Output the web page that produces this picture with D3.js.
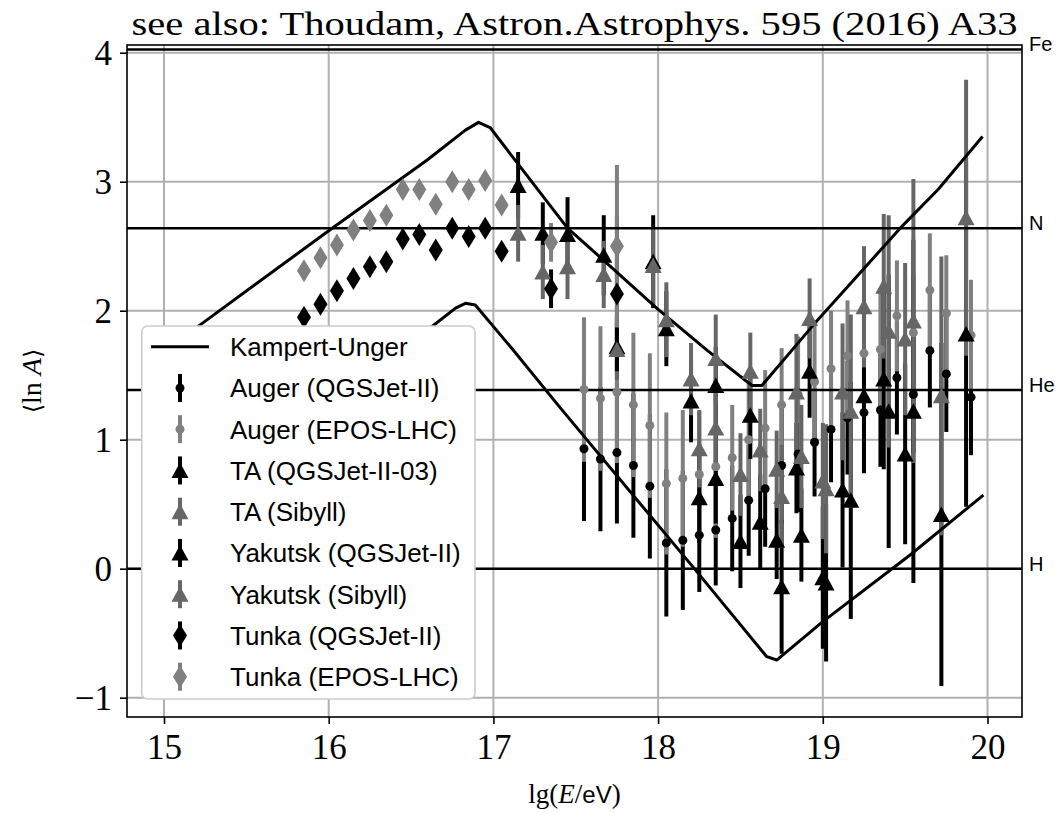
<!DOCTYPE html>
<html><head><meta charset="utf-8">
<script src="https://cdn.jsdelivr.net/npm/d3@7"></script>
<style>body{margin:0;background:#fff} svg{display:block}</style>
</head><body><svg id="c" width="1064" height="813"></svg>
<script>
// ---------------- data ----------------
const titleText = "see also: Thoudam, Astron.Astrophys. 595 (2016) A33";
const xTicks = [15, 16, 17, 18, 19, 20];
const yTicks = [-1, 0, 1, 2, 3, 4];

const massLabels = ["H", "He", "N", "Fe"];
const massLnA = [0, 1.386, 2.639, 4.025];

const kuUpperX = [15.0, 15.23, 16.0, 16.6, 16.83, 16.91, 16.98, 17.1, 17.45, 17.6, 18.0, 18.3, 18.57, 18.63, 18.95, 19.47, 19.7, 19.97];
const kuUpperY = [1.69, 1.90, 2.62, 3.17, 3.40, 3.46, 3.42, 3.22, 2.64, 2.47, 2.01, 1.69, 1.42, 1.42, 1.90, 2.64, 2.94, 3.35];
const kuLowerX = [15.0, 16.6, 16.77, 16.83, 16.89, 17.12, 17.4, 18.21, 18.66, 18.72, 19.0, 19.53, 19.975];
const kuLowerY = [0.34, 1.85, 2.02, 2.057, 2.044, 1.695, 1.256, 0.016, -0.682, -0.708, -0.41, 0.106, 0.571];

const augerX = [17.55,17.65,17.75,17.85,17.95,18.05,18.15,18.25,18.35,18.45,18.55,18.65,18.75,18.85,18.95,19.05,19.15,19.25,19.35,19.45,19.55,19.65,19.75,19.9];
const augerQgsY = [0.93,0.85,0.90,0.80,0.64,0.20,0.22,0.26,0.30,0.39,0.53,0.62,0.80,0.89,0.98,1.08,1.17,1.21,1.23,1.48,1.35,1.69,1.51,1.33];
const augerQgsErr = [0.56,0.56,0.55,0.56,0.56,0.57,0.54,0.44,0.43,0.41,0.43,0.45,0.45,0.45,0.42,0.41,0.44,0.45,0.44,0.44,0.45,0.44,0.45,0.45];
const augerEposY = [1.39,1.32,1.37,1.27,1.11,0.66,0.70,0.73,0.79,0.86,1.00,1.09,1.27,1.35,1.45,1.55,1.65,1.67,1.70,1.96,1.83,2.16,1.98,1.81];
const augerEposErr = [0.56,0.56,0.55,0.56,0.56,0.55,0.53,0.49,0.55,0.41,0.45,0.45,0.44,0.45,0.44,0.45,0.43,0.44,0.44,0.43,0.44,0.44,0.45,0.43];

const taX = [18.2, 18.35, 18.56, 18.72, 18.84, 18.92, 19.0, 19.12, 19.25, 19.37, 19.5, 19.72, 19.87];
const taQgsY = [1.30, 1.42, 1.19, 0.22, 0.78, 1.53, -0.07, 0.61, 1.34, 1.47, 0.89, 0.42, 1.82];
const taQgsErr = [0.32, 0.30, 0.34, 0.30, 0.35, 0.36, 0.55, 0.60, 0.60, 0.70, 0.70, 1.33, 1.34];
const taSibY = [1.47, 1.63, 1.53, 0.77, 1.37, 1.94, 0.68, 1.37, 2.03, 2.19, 1.78, 1.34, 2.72];
const taSibErr = [0.28, 0.34, 0.30, 0.30, 0.45, 0.31, 0.45, 0.53, 0.47, 0.56, 0.59, 1.08, 1.07];

const yakX = [17.15, 17.3, 17.45, 17.67, 17.75, 17.97, 18.05, 18.25, 18.35, 18.5, 18.62, 18.75, 18.87, 19.02, 19.17, 19.4, 19.55];
const yakQgsY = [2.97, 2.60, 2.59, 2.43, 1.72, 2.38, 1.86, 0.55, 0.70, 0.21, 0.36, -0.14, 0.26, -0.11, 0.53, 1.22, 1.22];
const yakQgsErr = [0.26, 0.24, 0.29, 0.31, 0.24, 0.36, 0.29, 0.35, 0.35, 0.36, 0.37, 0.52, 0.36, 0.61, 0.92, 1.06, 1.33];
const yakSibY = [2.60, 2.30, 2.34, 2.28, 1.70, 2.35, 1.93, 0.93, 1.09, 0.73, 0.92, 0.56, 0.87, 0.62, 1.22, 1.84, 1.92];
const yakSibErr = [0.22, 0.21, 0.25, 0.26, 0.24, 0.30, 0.29, 0.30, 0.30, 0.32, 0.32, 0.40, 0.40, 0.50, 0.75, 0.90, 1.10];

const tunkaX = [15.85,15.95,16.05,16.15,16.25,16.35,16.45,16.55,16.65,16.75,16.85,16.95,17.05,17.35,17.75];
const tunkaQgsY = [1.95,2.05,2.155,2.25,2.34,2.38,2.555,2.59,2.47,2.64,2.575,2.64,2.46,2.17,2.13];
const tunkaQgsErr = [0.03,0.03,0.03,0.03,0.03,0.03,0.03,0.03,0.03,0.03,0.03,0.03,0.03,0.15,0.60];
const tunkaEposY = [2.31,2.41,2.51,2.625,2.70,2.74,2.94,2.94,2.825,3.0,2.94,3.01,2.82,2.53,2.50];
const tunkaEposErr = [0.03,0.03,0.03,0.03,0.03,0.03,0.03,0.03,0.03,0.03,0.03,0.03,0.03,0.15,0.63];

const legendLabels = ["Kampert-Unger","Auger (QGSJet-II)","Auger (EPOS-LHC)","TA (QGSJet-II-03)","TA (Sibyll)","Yakutsk (QGSJet-II)","Yakutsk (Sibyll)","Tunka (QGSJet-II)","Tunka (EPOS-LHC)"];

// ---------------- setup ----------------
const W = 1064, H = 813;
const M = {left: 127, right: 1022, top: 45, bottom: 717};
const x = d3.scaleLinear().domain([14.7753, 20.2095]).range([M.left, M.right]);
const y = d3.scaleLinear().domain([-1.1496, 4.0597]).range([M.bottom, M.top]);
const svg = d3.select('#c');
svg.append('rect').attr('width', W).attr('height', H).attr('fill', '#fff');
svg.append('defs').append('clipPath').attr('id', 'clip').append('rect')
  .attr('x', M.left).attr('y', M.top).attr('width', M.right - M.left).attr('height', M.bottom - M.top);

const BLACK = '#000000', GREY = '#808080', DGREY = '#666666';
const SERIF = '"Liberation Serif", "Times New Roman", serif';
const SANS = '"Liberation Sans", Arial, sans-serif';

const sym = {
  circle: 'M4.5,0A4.5,4.5,0,1,1,-4.5,0A4.5,4.5,0,1,1,4.5,0Z',
  tri: 'M0,-8L8.5,7.5L-8.5,7.5Z',
  diamond: 'M0,-11.5L7,0L0,11.5L-7,0Z'
};

const series = [
  {xs: augerX, ys: augerQgsY, es: augerQgsErr, color: BLACK, m: 'circle'},
  {xs: augerX, ys: augerEposY, es: augerEposErr, color: GREY, m: 'circle'},
  {xs: taX, ys: taQgsY, es: taQgsErr, color: BLACK, m: 'tri'},
  {xs: taX, ys: taSibY, es: taSibErr, color: DGREY, m: 'tri'},
  {xs: yakX, ys: yakQgsY, es: yakQgsErr, color: BLACK, m: 'tri'},
  {xs: yakX, ys: yakSibY, es: yakSibErr, color: DGREY, m: 'tri'},
  {xs: tunkaX, ys: tunkaQgsY, es: tunkaQgsErr, color: BLACK, m: 'diamond'},
  {xs: tunkaX, ys: tunkaEposY, es: tunkaEposErr, color: GREY, m: 'diamond'}
];

// grid
const grid = svg.append('g');
grid.selectAll('.gx').data(xTicks).join('line')
  .attr('x1', d => x(d)).attr('x2', d => x(d)).attr('y1', M.top).attr('y2', M.bottom)
  .attr('stroke', '#b0b0b0').attr('stroke-width', 2);
grid.selectAll('.gy').data(yTicks).join('line')
  .attr('y1', d => y(d)).attr('y2', d => y(d)).attr('x1', M.left).attr('x2', M.right)
  .attr('stroke', '#b0b0b0').attr('stroke-width', 2);

const plot = svg.append('g').attr('clip-path', 'url(#clip)');

// error bars (below everything else)
const barsG = plot.append('g');
series.forEach(s => {
  const pts = s.xs.map((v, i) => ({x: v, y: s.ys[i], e: s.es[i]}));
  barsG.append('g').selectAll('line').data(pts).join('line')
    .attr('x1', d => x(d.x)).attr('x2', d => x(d.x))
    .attr('y1', d => y(d.y - d.e)).attr('y2', d => y(d.y + d.e))
    .attr('stroke', s.color).attr('stroke-width', 4);
});

// model lines
const line = d3.line().x(d => x(d[0])).y(d => y(d[1]));
plot.append('path').datum(kuUpperX.map((v, i) => [v, kuUpperY[i]])).attr('d', line)
  .attr('fill', 'none').attr('stroke', BLACK).attr('stroke-width', 3).attr('stroke-linejoin', 'round');
plot.append('path').datum(kuLowerX.map((v, i) => [v, kuLowerY[i]])).attr('d', line)
  .attr('fill', 'none').attr('stroke', BLACK).attr('stroke-width', 3).attr('stroke-linejoin', 'round');

// mass lines
plot.append('g').selectAll('line').data(massLnA).join('line')
  .attr('x1', M.left).attr('x2', M.right).attr('y1', d => y(d)).attr('y2', d => y(d))
  .attr('stroke', BLACK).attr('stroke-width', 2.5);

// markers
series.forEach(s => {
  const pts = s.xs.map((v, i) => ({x: v, y: s.ys[i]}));
  plot.append('g').selectAll('path').data(pts).join('path')
    .attr('d', sym[s.m]).attr('transform', d => `translate(${x(d.x)},${y(d.y)})`)
    .attr('fill', s.color);
});

// frame
svg.append('rect').attr('x', M.left).attr('y', M.top).attr('width', M.right - M.left).attr('height', M.bottom - M.top)
  .attr('fill', 'none').attr('stroke', BLACK).attr('stroke-width', 1.6);

// axes
const xAxis = svg.append('g').attr('transform', `translate(0,${M.bottom})`)
  .call(d3.axisBottom(x).tickValues(xTicks).tickSize(7).tickPadding(10).tickFormat(d3.format('d')));
const yAxis = svg.append('g').attr('transform', `translate(${M.left},0)`)
  .call(d3.axisLeft(y).tickValues(yTicks).tickSize(7).tickPadding(8).tickFormat(d3.format('d')));
[xAxis, yAxis].forEach(a => {
  a.select('.domain').remove();
  a.selectAll('.tick line').attr('stroke', BLACK).attr('stroke-width', 1.6);
  a.selectAll('.tick text').attr('font-family', SERIF).attr('font-size', 35).attr('fill', BLACK);
});
xAxis.selectAll('.tick text').attr('dy', '0.71em');
yAxis.selectAll('.tick text').attr('dy', '0.34em');

// mass labels
svg.append('g').selectAll('text').data(massLabels).join('text')
  .attr('x', M.right + 7).attr('y', (d, i) => y(massLnA[i]) + 2)
  .attr('font-family', SANS).attr('font-size', 20).attr('fill', BLACK).text(d => d);

// title
svg.append('text').attr('x', (M.left + M.right) / 2).attr('y', 35)
  .attr('text-anchor', 'middle').attr('font-family', SERIF).attr('font-size', 34).attr('fill', BLACK)
  .attr('textLength', 886).attr('lengthAdjust', 'spacingAndGlyphs')
  .text(titleText);

// x label
const xl = svg.append('text').attr('x', (M.left + M.right) / 2).attr('y', 803)
  .attr('text-anchor', 'middle').attr('font-family', SERIF).attr('font-size', 27).attr('fill', BLACK);
xl.append('tspan').text('lg(');
xl.append('tspan').attr('font-style', 'italic').text('E');
xl.append('tspan').text('/');
xl.append('tspan').attr('font-family', SANS).attr('font-size', 24).text('eV');
xl.append('tspan').text(')');

// y label
const yl = svg.append('text').attr('transform', 'translate(41,381) rotate(-90)')
  .attr('text-anchor', 'middle').attr('font-family', SERIF).attr('font-size', 28).attr('fill', BLACK);
yl.append('tspan').attr('font-family', '"DejaVu Serif", serif').attr('font-size', 24).text('\u27E8');
yl.append('tspan').text('ln ');
yl.append('tspan').attr('font-style', 'italic').text('A');
yl.append('tspan').attr('font-family', '"DejaVu Serif", serif').attr('font-size', 24).text('\u27E9');

// legend
const lg = svg.append('g');
lg.append('rect').attr('x', 141.7).attr('y', 326).attr('width', 333.3).attr('height', 373)
  .attr('rx', 6).attr('fill', '#fff').attr('stroke', '#cccccc').attr('stroke-width', 1.6);
const rowY = i => 346.7 + i * 41.25;
const mx = 180;
lg.append('line').attr('x1', 151).attr('x2', 209).attr('y1', rowY(0)).attr('y2', rowY(0))
  .attr('stroke', BLACK).attr('stroke-width', 3);
series.forEach((s, k) => {
  const cy = rowY(k + 1);
  lg.append('line').attr('x1', mx).attr('x2', mx).attr('y1', cy - 14).attr('y2', cy + 14)
    .attr('stroke', s.color).attr('stroke-width', 4);
  lg.append('path').attr('d', sym[s.m]).attr('transform', `translate(${mx},${cy})`).attr('fill', s.color);
});
const lt = lg.selectAll('text.l').data(legendLabels).join('text').attr('class', 'l')
  .attr('x', 230).attr('y', (d, i) => rowY(i)).attr('dy', '0.36em')
  .attr('font-family', SANS).attr('font-size', 24).attr('fill', BLACK).text(d => d);
const ref = lt.filter((d, i) => i === 2).node().getComputedTextLength();
if (ref > 0) lt.attr('font-size', 24 * 227 / ref);
</script></body></html>
